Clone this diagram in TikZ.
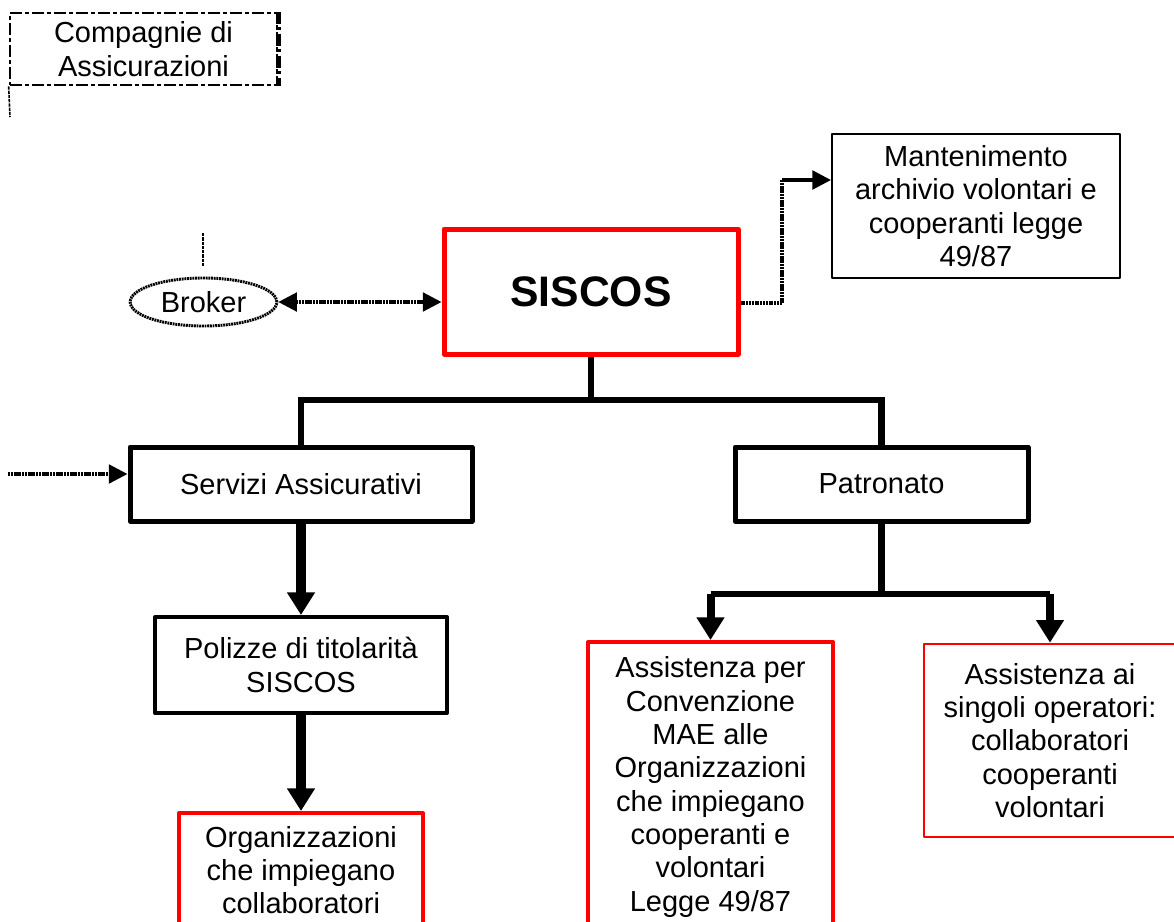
\documentclass[tikz,border=0pt]{standalone}
\usepackage{fontspec}
\setmainfont{Liberation Sans}
\usetikzlibrary{arrows.meta,shapes.geometric}
\begin{document}
\begin{tikzpicture}[x=0.75pt,y=-0.75pt,
  box/.style={draw, rectangle, align=center, inner sep=0pt, font=\fontsize{21.75}{25}\selectfont, line join=round},
  blackbox/.style={box, line width=3.75pt},
  redbox/.style={box, draw=red, line width=3pt},
  treeline/.style={line width=5pt, line join=miter},
  bigarrow/.style={line width=7pt, -{Triangle[width=20pt,length=17pt]}},
  dotline/.style={line width=2.4pt, dash pattern=on 1.6pt off 0.5pt},
  stub/.style={line width=1.2pt, dash pattern=on 2.5pt off 0.7pt},
  smalltip/.style={-{Triangle[width=14pt,length=14pt]}},
  dashdot/.style={dash pattern=on 9pt off 2.5pt on 2.5pt off 2.5pt},
]
\useasboundingbox (0,0) rectangle (1174,921);
\clip (0,0) rectangle (1174,921);

% nodes
\node[box, line width=2pt, dashdot,
      minimum width=200.25pt, minimum height=54pt] (comp) at (143.5,49) {Compagnie di\\Assicurazioni};
\node[ellipse, draw, line width=2.2pt, dash pattern=on 1.4pt off 0.6pt, inner sep=0pt,
      minimum width=110pt, minimum height=36pt, font=\fontsize{21.75}{25}\selectfont] (brk) at (203.5,302) {Broker};
\node[box, draw=red, line width=3.75pt, minimum width=220.5pt, minimum height=93.75pt,
      font=\fontsize{32}{38}\selectfont\bfseries] (sis) at (591,291.5) {SISCOS};
\node[box, line width=1.5pt, minimum width=216pt, minimum height=108pt] (mant) at (976,206)
      {Mantenimento\\archivio volontari e\\cooperanti legge\\49/87};
\node[blackbox, minimum width=256.5pt, minimum height=55.5pt] (serv) at (301,484) {Servizi Assicurativi};
\node[blackbox, minimum width=219.75pt, minimum height=55.5pt] (pat) at (881.5,484) {Patronato};
\node[box, line width=3pt, minimum width=219pt, minimum height=72pt] (pol) at (301,665) {Polizze di titolarità\\SISCOS};
\node[redbox, minimum width=183pt, minimum height=85.5pt] (org) at (301,870)
      {Organizzazioni\\che impiegano\\collaboratori};
\node[redbox, minimum width=183.75pt, minimum height=217.5pt] (ass1) at (710.5,787)
      {Assistenza per\\Convenzione\\MAE alle\\Organizzazioni\\che impiegano\\cooperanti e\\volontari\\Legge 49/87};
\node[redbox, line width=2pt, minimum width=189pt, minimum height=144.75pt] (ass2) at (1050,740.5)
      {Assistenza ai\\singoli operatori:\\collaboratori\\cooperanti\\volontari};

% thicker right side of the dash-dot box
\draw[line width=3.5pt, dashdot] (comp.north east) -- (comp.south east);

% stubs
\coordinate (cs) at (10,117);
\draw[stub] (comp.south west) -- (cs);
\coordinate (bk1) at (203,233);
\coordinate (bk2) at (203,267);
\draw[stub] (bk1) -- (bk2);

% Broker <-> SISCOS
\draw[dotline, {Triangle[width=14pt,length=14pt]}-{Triangle[width=14pt,length=14pt]}] (brk.east) -- (brk.east -| sis.west);

% SISCOS -> Mantenimento
\coordinate (r1) at (782,303);
\coordinate (r2) at (782,180);
\draw[dotline] (r1 -| sis.east) -- (r1) -- (r2);
\draw[line width=2.6pt, smalltip] (r2) -- (r2 -| mant.west);

% left incoming arrow
\coordinate (lft) at (8,474);
\draw[dotline, smalltip] (lft) -- (lft -| serv.west);

% tree from SISCOS
\coordinate (j1) at (591,400);
\draw[treeline] (sis.south) -- (sis.south |- j1);
\draw[treeline] (serv.north) -- (serv.north |- j1) -- (pat.north |- j1) -- (pat.north);

% Servizi chain
\draw[bigarrow] (serv.south) -- (pol.north);
\draw[bigarrow] (pol.south) -- (org.north);

% Patronato branch
\coordinate (j2) at (881.5,594);
\draw[treeline] (pat.south) -- (j2);
\draw[treeline] (ass1.north |- j2) -- (ass2.north |- j2);
\draw[bigarrow, line width=6pt] (ass1.north |- j2) -- (ass1.north);
\draw[bigarrow, line width=6pt] (ass2.north |- j2) -- (ass2.north);
\end{tikzpicture}
\end{document}
